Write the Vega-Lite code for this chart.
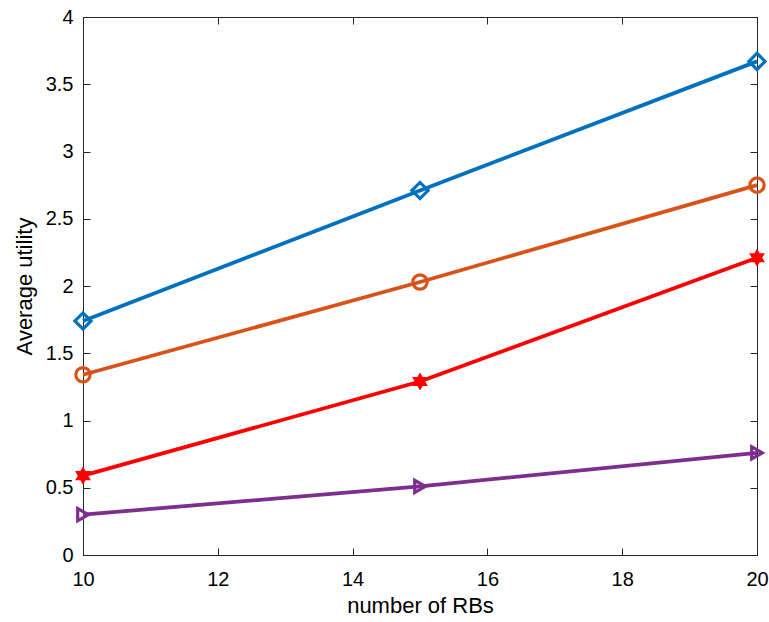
{
  "$schema": "https://vega.github.io/schema/vega-lite/v6.json",
  "width": 674,
  "height": 538,
  "autosize": {"type": "none"},
  "padding": {"left": 83, "top": 17, "right": 12, "bottom": 67},
  "background": "white",
  "config": {
    "view": {"stroke": "#262626", "strokeWidth": 1},
    "axis": {
      "labelFont": "Liberation Sans",
      "titleFont": "Liberation Sans",
      "labelFontSize": 20,
      "titleFontSize": 22,
      "titleFontWeight": "normal",
      "labelColor": "#000000",
      "titleColor": "#000000",
      "domainColor": "#262626",
      "tickColor": "#262626",
      "grid": false,
      "labelFlush": false,
      "tickSize": -7
    }
  },
  "data": {
    "values": [
      {"series": "A", "x": 10, "y": 1.74},
      {"series": "A", "x": 15, "y": 2.71},
      {"series": "A", "x": 20, "y": 3.67},
      {"series": "B", "x": 10, "y": 1.34},
      {"series": "B", "x": 15, "y": 2.03},
      {"series": "B", "x": 20, "y": 2.75},
      {"series": "C", "x": 10, "y": 0.59},
      {"series": "C", "x": 15, "y": 1.29},
      {"series": "C", "x": 20, "y": 2.21},
      {"series": "D", "x": 10, "y": 0.30},
      {"series": "D", "x": 15, "y": 0.51},
      {"series": "D", "x": 20, "y": 0.76}
    ]
  },
  "resolve": {"axis": {"x": "independent", "y": "independent"}},
  "layer": [
    {
      "mark": {"type": "line", "strokeWidth": 3.8},
      "encoding": {
        "x": {"field": "x", "type": "quantitative", "scale": {"domain": [10, 20], "nice": false},
              "axis": {"title": "number of RBs", "values": [10, 12, 14, 16, 18, 20], "format": "~g", "labelFontSize": 20, "titleFontSize": 22, "labelFlush": false, "labelPadding": 21, "titlePadding": 6}},
        "y": {"field": "y", "type": "quantitative", "scale": {"domain": [0, 4], "nice": false, "zero": false},
              "axis": {"title": "Average utility", "values": [0, 0.5, 1, 1.5, 2, 2.5, 3, 3.5, 4], "format": "~g", "labelFontSize": 20, "titleFontSize": 22, "labelPadding": 17, "titlePadding": 9}},
        "color": {"field": "series", "type": "nominal", "legend": null,
                  "scale": {"domain": ["A", "B", "C", "D"], "range": ["#0072BD", "#D95319", "#FF0000", "#7E2F8E"]}},
        "detail": {"field": "series"}
      }
    },
    {
      "transform": [{"filter": "datum.series !== 'C'"}],
      "mark": {"type": "point", "filled": false, "strokeWidth": 3.2, "opacity": 1},
      "encoding": {
        "x": {"field": "x", "type": "quantitative", "axis": {"orient": "top", "labels": false, "title": null, "values": [10, 12, 14, 16, 18, 20]}},
        "y": {"field": "y", "type": "quantitative", "axis": {"orient": "right", "labels": false, "title": null, "values": [0, 0.5, 1, 1.5, 2, 2.5, 3, 3.5, 4]}},
        "color": {"field": "series", "type": "nominal", "legend": null},
        "shape": {"field": "series", "type": "nominal", "legend": null,
                  "scale": {"domain": ["A", "B", "D"], "range": ["diamond", "circle", "triangle-right"]}},
        "size": {"field": "series", "type": "nominal", "legend": null,
                 "scale": {"domain": ["A", "B", "D"], "range": [260, 150, 280]}}
      }
    },
    {
      "transform": [{"filter": "datum.series === 'C'"}],
      "mark": {"type": "point", "filled": true, "opacity": 1, "size": 330, "strokeWidth": 0,
               "shape": "M0,-1L0.2887,-0.5L0.866,-0.5L0.5774,0L0.866,0.5L0.2887,0.5L0,1L-0.2887,0.5L-0.866,0.5L-0.5774,0L-0.866,-0.5L-0.2887,-0.5Z"},
      "encoding": {
        "x": {"field": "x", "type": "quantitative", "axis": null},
        "y": {"field": "y", "type": "quantitative", "axis": null},
        "color": {"field": "series", "type": "nominal", "legend": null}
      }
    }
  ]
}
